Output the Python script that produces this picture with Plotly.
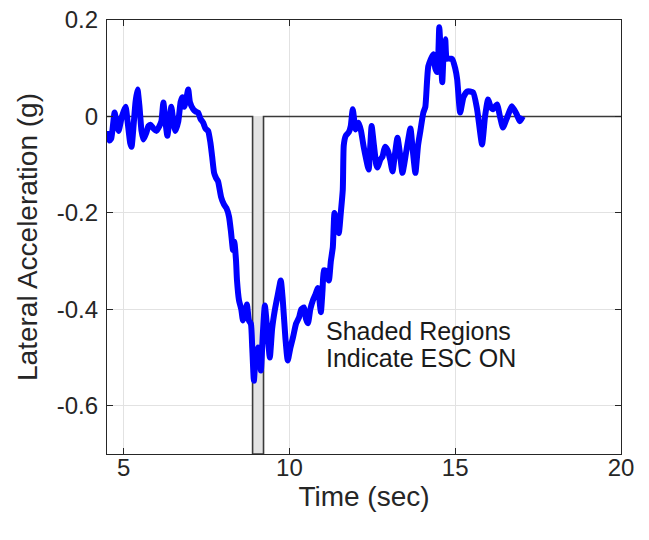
import plotly.graph_objects as go

# Blue lateral-acceleration trace (time in s, acceleration in g)
time_s = [4.55, 4.58, 4.63, 4.73, 4.80, 4.85, 4.95, 5.06, 5.12, 5.20, 5.24, 5.30, 5.36, 5.42,
          5.48, 5.54, 5.60, 5.68, 5.75, 5.81, 5.90, 5.99, 6.08, 6.14, 6.20, 6.26, 6.32, 6.38,
          6.44, 6.50, 6.56, 6.65, 6.72, 6.77, 6.83, 6.90, 6.95, 7.00, 7.10, 7.18, 7.25, 7.32,
          7.40, 7.47, 7.55, 7.62, 7.67, 7.73, 7.79, 7.85, 7.94, 8.03, 8.10, 8.18, 8.24, 8.30,
          8.34, 8.39, 8.42, 8.48, 8.55, 8.60, 8.66, 8.72, 8.78, 8.84, 8.88, 8.93, 8.98, 9.05,
          9.10, 9.14, 9.20, 9.26, 9.33, 9.41, 9.48, 9.56, 9.65, 9.74, 9.80, 9.88, 9.95, 10.03,
          10.11, 10.20, 10.29, 10.36, 10.44, 10.50, 10.56, 10.63, 10.71, 10.78, 10.86, 10.92,
          10.95, 11.00, 11.04, 11.10, 11.19, 11.25, 11.31, 11.36, 11.42, 11.49, 11.55, 11.61,
          11.64, 11.70, 11.79, 11.85, 11.91, 11.96, 12.00, 12.09, 12.16, 12.24, 12.32, 12.39,
          12.44, 12.48, 12.55, 12.62, 12.66, 12.74, 12.81, 12.88, 12.96, 13.04, 13.11, 13.18,
          13.26, 13.34, 13.41, 13.53, 13.65, 13.72, 13.80, 13.88, 13.95, 14.04, 14.10, 14.19,
          14.34, 14.40, 14.46, 14.52, 14.57, 14.61, 14.65, 14.70, 14.74, 14.79, 14.91, 15.00,
          15.06, 15.15, 15.25, 15.36, 15.54, 15.66, 15.81, 15.90, 15.99, 16.07, 16.14, 16.26,
          16.35, 16.44, 16.55, 16.71, 16.85, 16.95, 17.04]
lat_acc_g = [-0.030, -0.050, -0.045, 0.008, -0.020, -0.030, 0.000, 0.020, -0.010, -0.055,
             -0.063, -0.020, 0.030, 0.056, 0.020, -0.030, -0.048, -0.035, -0.020, -0.017,
             -0.025, -0.030, -0.020, -0.010, 0.029, -0.010, -0.040, -0.010, 0.020, -0.010,
             -0.030, -0.010, 0.030, 0.040, 0.020, 0.040, 0.056, 0.030, 0.015, 0.010, 0.008,
             -0.005, -0.013, -0.025, -0.030, -0.055, -0.083, -0.117, -0.128, -0.135, -0.167,
             -0.183, -0.190, -0.208, -0.240, -0.277, -0.260, -0.298, -0.340, -0.381, -0.400,
             -0.423, -0.410, -0.390, -0.423, -0.430, -0.480, -0.548, -0.500, -0.479, -0.500,
             -0.527, -0.450, -0.392, -0.440, -0.500, -0.440, -0.402, -0.370, -0.340, -0.380,
             -0.460, -0.506, -0.480, -0.458, -0.430, -0.417, -0.400, -0.396, -0.420, -0.429,
             -0.400, -0.381, -0.370, -0.356, -0.390, -0.406, -0.360, -0.319, -0.320, -0.340,
             -0.300, -0.271, -0.200, -0.220, -0.242, -0.200, -0.152, -0.060, -0.040, -0.033,
             -0.020, 0.015, -0.010, -0.027, -0.013, -0.030, -0.063, -0.090, -0.110, -0.060,
             -0.020, -0.060, -0.100, -0.106, -0.090, -0.083, -0.063, -0.070, -0.090, -0.114,
             -0.080, -0.044, -0.080, -0.117, -0.070, -0.025, -0.070, -0.117, -0.060, -0.030,
             0.008, 0.020, 0.104, 0.129, 0.100, 0.092, 0.185, 0.120, 0.071, 0.130, 0.160,
             0.120, 0.120, 0.119, 0.100, 0.077, 0.008, 0.040, 0.052, 0.050, 0.015, -0.058,
             0.000, 0.035, 0.020, 0.015, 0.025, 0.000, -0.023, -0.005, 0.021, 0.005, -0.010,
             0.000]

# ESC ON region (start, end) in seconds
esc_start = [8.89]
esc_end = [9.22]

x_ticks = [5, 10, 15, 20]
y_ticks = [-0.6, -0.4, -0.2, 0, 0.2]
y_tick_text = ["-0.6", "-0.4", "-0.2", "0", "0.2"]
x_range = [4.5, 20]
y_range = [-0.7, 0.2]
note_lines = ["Shaded Regions", "Indicate ESC ON"]
note_y = [-0.444, -0.500]
note_x = 11.04

FONT = "Liberation Sans, Arial, sans-serif"
TXT = "#262626"

fig = go.Figure()

# shaded ESC ON regions
for s, e in zip(esc_start, esc_end):
    fig.add_trace(go.Scatter(
        x=[s, e, e, s, s], y=[0, 0, y_range[0], y_range[0], 0],
        fill="toself", fillcolor="#e3e3e3", line=dict(width=0),
        mode="lines", hoverinfo="skip", showlegend=False))

# ESC flag line: zero when off, drops to bottom when on
flag_x = [x_range[0]]
flag_y = [0]
for s, e in zip(esc_start, esc_end):
    flag_x += [s, s, e, e]
    flag_y += [0, y_range[0], y_range[0], 0]
flag_x.append(x_range[1])
flag_y.append(0)
fig.add_trace(go.Scatter(x=flag_x, y=flag_y, mode="lines",
                         line=dict(color="#3a3a3a", width=1.6),
                         hoverinfo="skip", showlegend=False))

fig.add_trace(go.Scatter(x=time_s, y=lat_acc_g, mode="lines",
                         line=dict(color="#0000ff", width=6, shape="spline", smoothing=0.5),
                         showlegend=False))

for txt, yy in zip(note_lines, note_y):
    fig.add_annotation(x=note_x, y=yy, xref="x", yref="y", text=txt, showarrow=False,
                       xanchor="left", yanchor="middle", align="left",
                       font=dict(family=FONT, size=25, color="#1a1a1a"))

axis_common = dict(
    showline=True, linecolor="#262626", linewidth=1.2, mirror="ticks",
    ticks="inside", ticklen=6, tickcolor="#262626", tickwidth=1.2,
    showgrid=True, gridcolor="#e2e2e2", gridwidth=1, zeroline=False,
    tickfont=dict(family=FONT, size=24, color=TXT),
)

fig.update_xaxes(range=x_range, tickvals=x_ticks, ticktext=[str(v) for v in x_ticks],
                 ticklabelstandoff=-8,
                 title=dict(text="Time (sec)", font=dict(family=FONT, size=28, color=TXT),
                            standoff=4),
                 **axis_common)
fig.update_yaxes(range=y_range, tickvals=y_ticks, ticktext=y_tick_text,
                 ticklabelstandoff=3,
                 title=dict(text="Lateral Acceleration (g)",
                            font=dict(family=FONT, size=28, color=TXT), standoff=10),
                 **axis_common)

fig.update_layout(width=649, height=540,
                  margin=dict(l=107, r=28, t=20, b=86, autoexpand=False),
                  plot_bgcolor="white", paper_bgcolor="white")

fig.write_html("out.html", config={"displayModeBar": False},
               post_script="document.body.style.margin='0px';")
